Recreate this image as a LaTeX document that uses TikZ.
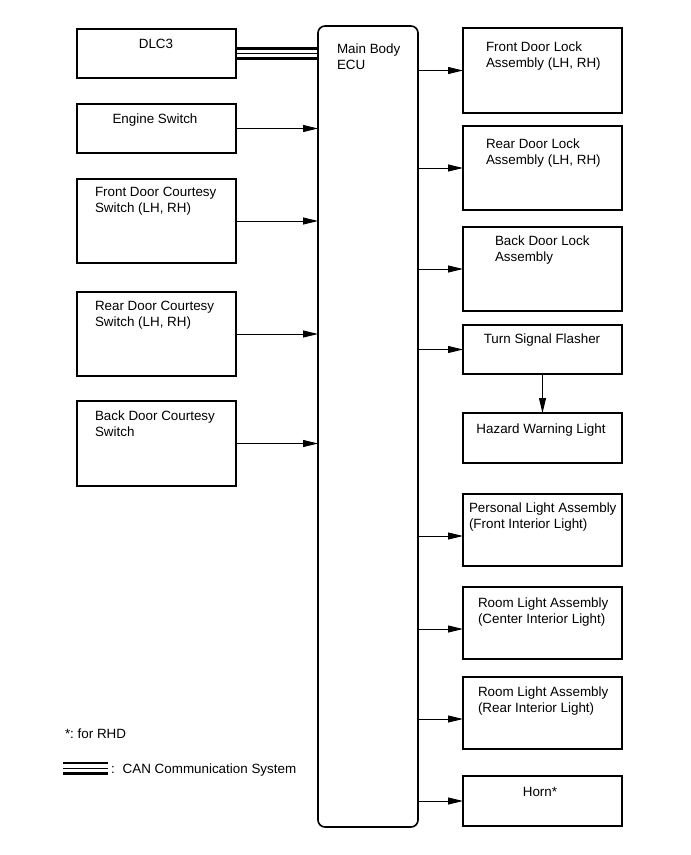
\documentclass[tikz,border=0pt]{standalone}
\usepackage{fontspec}
\setmainfont{Liberation Sans}
\frenchspacing
\usetikzlibrary{arrows.meta}

\begin{document}
\begin{tikzpicture}[x=1pt, y=-1pt,
    every node/.style={font=\fontsize{13.4}{16}\selectfont, inner sep=0pt, outer sep=0pt},
    box/.style={draw, line width=1.6pt, anchor=north west, minimum width=159pt},
    txt/.style={anchor=base west, align=left},
    ctxt/.style={anchor=base},
    sig/.style={line width=0.9pt, -{Triangle[length=15pt, width=7pt]}}]
    \useasboundingbox (0,0) rectangle (691,855);

    % Inputs (base of the last line given for two-line texts)
    \node[box, minimum height=49pt] (dlc) at (77,29) {};
    \node[box, minimum height=49pt] (eng) at (77,104) {};
    \node[box, minimum height=84pt] (fdc) at (77,179) {};
    \node[box, minimum height=84pt] (rdc) at (77,292) {};
    \node[box, minimum height=85pt] (bdc) at (77,401) {};
    \node[ctxt] (tdlc) at (156,48) {DLC3};
    \node[ctxt] (teng) at (155,123) {Engine Switch};
    \node[txt] (tfdc) at (95,212) {Front Door Courtesy\\Switch (LH, RH)};
    \node[txt] (trdc) at (95,326) {Rear Door Courtesy\\Switch (LH, RH)};
    \node[txt] (tbdc) at (95,436) {Back Door Courtesy\\Switch};

    % ECU
    \node[box, minimum width=100pt, minimum height=801pt, rounded corners=7pt] (ecu) at (318,26) {};
    \node[txt] (tecu) at (337,69) {Main Body\\ECU};

    % Outputs
    \node[box, minimum height=85pt] (fdl) at (463,28) {};
    \node[box, minimum height=84pt] (rdl) at (463,126) {};
    \node[box, minimum height=84pt] (bdl) at (463,227) {};
    \node[box, minimum height=49pt] (tsf) at (463,325) {};
    \node[box, minimum height=50pt] (hwl) at (463,413) {};
    \node[box, minimum height=72pt] (pla) at (463,494) {};
    \node[box, minimum height=72pt] (rlc) at (463,587) {};
    \node[box, minimum height=72pt] (rlr) at (463,677) {};
    \node[box, minimum height=50pt] (horn) at (463,776) {};
    \node[txt] (tfdl) at (486,67) {Front Door Lock\\Assembly (LH, RH)};
    \node[txt] (trdl) at (486,164) {Rear Door Lock\\Assembly (LH, RH)};
    \node[txt] (tbdl) at (495,261) {Back Door Lock\\Assembly};
    \node[ctxt] (ttsf) at (542,343) {Turn Signal Flasher};
    \node[ctxt] (thwl) at (541,433) {Hazard Warning Light};
    \node[txt] (tpla) at (469,528) {Personal Light Assembly\\(Front Interior Light)};
    \node[txt] (trlc) at (478,623) {Room Light Assembly\\(Center Interior Light)};
    \node[txt] (trlr) at (478,712) {Room Light Assembly\\(Rear Interior Light)};
    \node[ctxt] (thorn) at (540,796) {Horn*};

    % CAN bus
    \foreach \dy/\lw in {5/2.7pt, 0/1pt, -5/3pt}
      \draw[line width=\lw] ([yshift=\dy pt]dlc.east) -- ([yshift=\dy pt]dlc.east -| ecu.west);

    % Signals to ECU
    \foreach \n in {eng, fdc, rdc, bdc}
      \draw[sig] (\n.east) -- (\n.east -| ecu.west);

    % Signals from ECU
    \foreach \n in {fdl, rdl, bdl, tsf, horn}
      \draw[sig] (ecu.east |- \n.west) -- (\n.west);
    \foreach \n in {pla, rlc, rlr}
      \draw[sig] ([yshift=-6pt]ecu.east |- \n.west) -- ([yshift=-6pt]\n.west);
    \draw[sig] (tsf.south) -- (hwl.north);

    % Legend
    \node[txt] (tnote) at (65,738) {*: for RHD};
    \coordinate (lega) at (63,768);
    \coordinate (legb) at (108,768);
    \foreach \dy/\lw in {5/2.7pt, 0/1pt, -5/3pt}
      \draw[line width=\lw] ([yshift=\dy pt]lega) -- ([yshift=\dy pt]legb);
    \node[txt] (tcan) at (111,773) {:\hspace{8pt}CAN Communication System};
  \end{tikzpicture}
\end{document}
